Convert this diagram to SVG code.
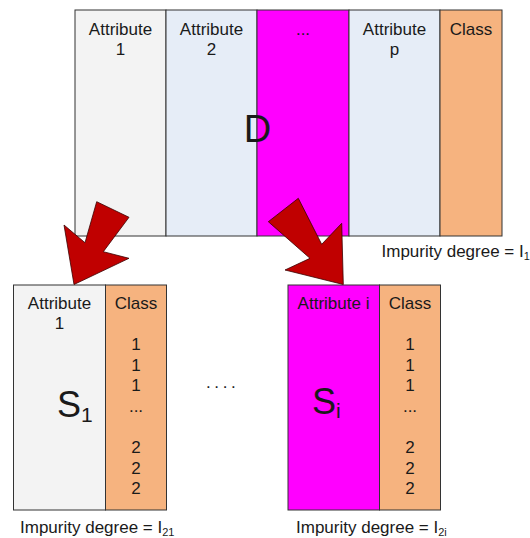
<svg xmlns="http://www.w3.org/2000/svg" width="530" height="538" viewBox="0 0 530 538">
<style>
.c{stroke:#333;stroke-width:1}
.g{fill:#f3f3f3}
.b{fill:#e6edf7}
.m{fill:#ff00ff}
.o{fill:#f6b37f}
text{font-family:"Liberation Sans",Arial,sans-serif;fill:#1a1a1a}
.t{font-size:17px;text-anchor:middle}
.l{font-size:17px}
.s{font-size:11px}
.big{font-size:36px}
.arr{fill:#c00000;stroke:#3a0000;stroke-width:0.8;stroke-linejoin:miter}
</style>
<rect width="530" height="538" fill="#fff"/>
<g id="D">
<rect class="c g" x="75" y="10" width="91" height="226"/>
<rect class="c b" x="166" y="10" width="91" height="226"/>
<rect class="c m" x="257" y="10" width="92" height="226"/>
<rect class="c b" x="349" y="10" width="91" height="226"/>
<rect class="c o" x="440" y="10" width="62" height="226"/>
<text class="t" x="120.5" y="35">Attribute</text>
<text class="t" x="120.5" y="55">1</text>
<text class="t" x="211.5" y="35">Attribute</text>
<text class="t" x="211.5" y="55">2</text>
<text class="t" x="303" y="35">...</text>
<text class="t" x="394.5" y="35">Attribute</text>
<text class="t" x="394.5" y="55">p</text>
<text class="t" x="471" y="35">Class</text>
<text x="257.5" y="142" style="font-size:38px;text-anchor:middle">D</text>
<text class="l" x="381.5" y="256.5">Impurity degree = I<tspan class="s" dy="3">1</tspan></text>
</g>
<g id="S1">
<rect class="c g" x="13.5" y="285" width="92" height="225"/>
<rect class="c o" x="105.5" y="285" width="61" height="225"/>
<text class="t" x="59.5" y="308.5">Attribute</text>
<text class="t" x="59.5" y="328.5">1</text>
<text class="t" x="136" y="308.5">Class</text>
<text class="t" x="136" y="350">1</text>
<text class="t" x="136" y="370.5">1</text>
<text class="t" x="136" y="391">1</text>
<text class="t" x="136" y="412">...</text>
<text class="t" x="136" y="453">2</text>
<text class="t" x="136" y="473.5">2</text>
<text class="t" x="136" y="494">2</text>
<text class="big" x="57" y="416.5">S<tspan style="font-size:21px" dy="5.5">1</tspan></text>
<text class="l" x="20" y="533">Impurity degree = I<tspan class="s" dy="3">21</tspan></text>
</g>
<g id="dots">
<text class="l" x="206" y="388" style="letter-spacing:3.6px">....</text>
</g>
<g id="Si">
<rect class="c m" x="288" y="285" width="91.5" height="225"/>
<rect class="c o" x="379.5" y="285" width="61" height="225"/>
<text class="t" x="333.5" y="308.5">Attribute i</text>
<text class="t" x="410" y="308.5">Class</text>
<text class="t" x="410" y="350">1</text>
<text class="t" x="410" y="370.5">1</text>
<text class="t" x="410" y="391">1</text>
<text class="t" x="410" y="412">...</text>
<text class="t" x="410" y="453">2</text>
<text class="t" x="410" y="473.5">2</text>
<text class="t" x="410" y="494">2</text>
<text class="big" x="312" y="413.5">S<tspan style="font-size:21px" dy="4">i</tspan></text>
<text class="l" x="296" y="533">Impurity degree = I<tspan class="s" dy="3">2i</tspan></text>
</g>
<g id="connectors">
<polygon class="arr" points="96.7,201.7 129,217.3 103.3,251.7 129,258.3 74,284.5 64,225 85,242.7"/>
<polygon class="arr" points="298.3,198.3 268.3,221.7 310,258.3 285,270 343.3,284.5 341.7,223.3 321.7,244.3"/>
</g>
</svg>
